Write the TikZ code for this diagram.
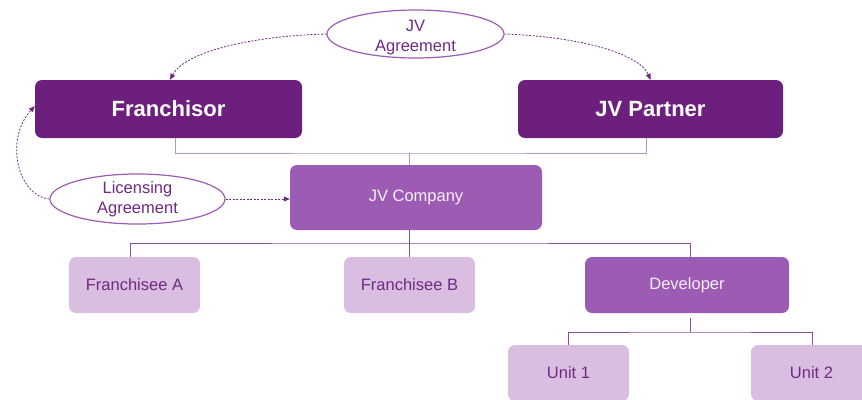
\documentclass[tikz,border=0pt]{standalone}
\usepackage{fontspec}
\setmainfont{Liberation Sans}
\usetikzlibrary{shapes.geometric,arrows.meta,calc}
\definecolor{deep}{HTML}{6D1F7E}
\definecolor{mid}{HTML}{9D5CB4}
\definecolor{pale}{HTML}{D9BEE1}
\definecolor{ink}{HTML}{6F2A82}
\definecolor{wire}{HTML}{8A4C9E}
\definecolor{wirelight}{HTML}{B993C8}
\definecolor{softwhite}{HTML}{F6EEF8}
\tikzset{
  toplevel/.style={rectangle, rounded corners=7pt, fill=deep, text=white, inner sep=0pt,
    font=\fontsize{22}{26}\selectfont\bfseries},
  midlevel/.style={rectangle, rounded corners=7pt, fill=mid, text=softwhite, inner sep=0pt,
    font=\fontsize{16.5}{20}\selectfont},
  leaf/.style={rectangle, rounded corners=7pt, fill=pale, text=ink, inner sep=0pt,
    font=\fontsize{16.5}{20}\selectfont},
  pact/.style={ellipse, draw=mid, line width=1.2pt, fill=white, text=ink, inner sep=0pt,
    align=center, font=\fontsize{16.5}{20}\selectfont},
  pacttext/.style={text=ink, inner sep=0pt, align=center, font=\fontsize{16.5}{20}\selectfont},
  tree/.style={draw=wire, line width=1pt},
  treelight/.style={draw=wirelight, line width=1pt},
  deal/.style={draw=ink, line width=0.8pt, dash pattern=on 2pt off 1.5pt,
    -{Triangle[length=6pt,width=5pt]}},
}
\begin{document}
\begin{tikzpicture}[x=1pt,y=-1pt]
  \clip (0,0) rectangle (862,399);
  \useasboundingbox (0,0) rectangle (862,399);

  % parties
  \node[toplevel, minimum width=267pt, minimum height=58pt] (fr)  at (168.5,109) {Franchisor};
  \node[toplevel, minimum width=265pt, minimum height=58pt] (jvp) at (650.5,109) {JV Partner};
  \node[midlevel, minimum width=252pt, minimum height=65pt] (jvc) at (416,197.5) {JV Company};
  \node[leaf, minimum width=131pt, minimum height=56pt] (fa)  at (134.5,285) {Franchisee A};
  \node[leaf, minimum width=131pt, minimum height=56pt] (fb)  at (409.5,285) {Franchisee B};
  \node[midlevel, minimum width=204pt, minimum height=56pt] (dev) at (687,285) {Developer};
  \node[leaf, minimum width=121pt, minimum height=56pt] (u1)  at (568.5,373) {Unit 1};
  \node[leaf, minimum width=121pt, minimum height=56pt] (u2)  at (811.5,373) {Unit 2};

  % ownership lines
  \coordinate (own) at (409,153);
  \draw[treelight] ([xshift=6.5pt]fr.south) |- (own) -| ([xshift=-4.5pt]jvp.south);
  \draw[treelight] (own) -- (own |- jvc.north);

  \coordinate (sub) at (409,243);
  \draw[tree] (sub |- jvc.south) -- (sub);
  \draw[tree] ([xshift=-4.5pt]fa.north) |- (sub) -| ([xshift=3pt]dev.north);
  \draw[tree] (sub) -- (sub |- fb.north);

  \coordinate (dtop) at (690,318);
  \coordinate (units) at (690,332);
  \draw[tree] (dtop) -- (units);
  \draw[tree] ([xshift=-0.5pt]u1.north) |- (units) -| ([xshift=0.5pt]u2.north);

  % agreements (the JV text sits a little low in its ellipse)
  \node[pact, minimum width=177pt, minimum height=48pt,
        label={[pacttext, yshift=-4pt]center:JV\\Agreement}] (jva) at (415.5,34) {};
  \node[pact, minimum width=175pt, minimum height=46pt] (lic) at (137.5,199) {Licensing\\Agreement};

  \draw[deal] (jva.west) .. controls (250,36) and (185,52) .. ([xshift=1.5pt]fr.north);
  \draw[deal] (jva.east) .. controls (585,37) and (640,55) .. (jvp.north);
  \draw[deal] (lic.west) .. controls (18,196) and (4,140) .. ([yshift=3pt]fr.west);
  \draw[deal] (lic.east) -- (lic.east -| jvc.west);
\end{tikzpicture}
\end{document}
